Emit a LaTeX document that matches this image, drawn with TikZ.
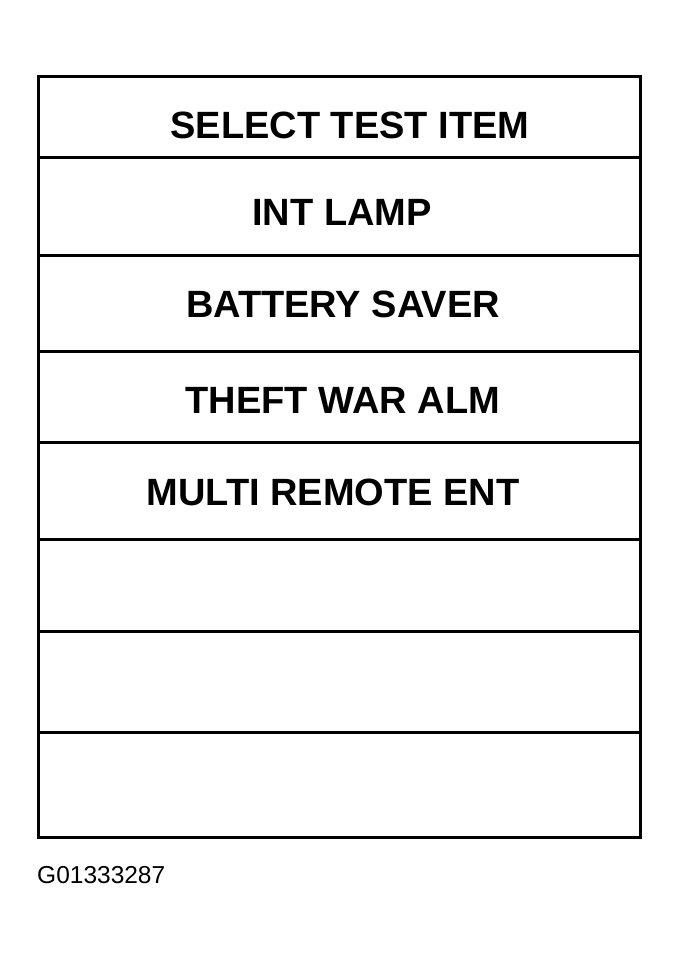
\documentclass[tikz,border=0pt]{standalone}
\usepackage{fontspec}
\setmainfont{Liberation Sans}
\usetikzlibrary{positioning}

\begin{document}
\begin{tikzpicture}[x=1pt, y=-1pt, item/.style={font=\fontsize{38}{38}\bfseries\selectfont,
		inner sep=0pt}, rule/.style={line width=3pt}]
	\useasboundingbox (0, 0) rectangle (679, 958);
	\draw[line width=3pt] (38, 76) rectangle (640, 837);
	\foreach \y in {157, 255, 351, 442, 539, 631, 732}
		\draw[rule] (38, \y) -- (640, \y);
	\node[item] (0) at (350, 125) {SELECT TEST ITEM};
	\node[item] (1) at (342, 212) {INT LAMP};
	\node[item] (2) at (343, 304) {BATTERY SAVER};
	\node[item] (3) at (343, 400) {THEFT WAR ALM};
	\node[item] (4) at (333, 492) {MULTI REMOTE ENT};
	\node[font=\fontsize{24.5}{24.5}\selectfont, inner sep=0pt, anchor=west] (5) at (37, 875) {G01333287};
\end{tikzpicture}
\end{document}
